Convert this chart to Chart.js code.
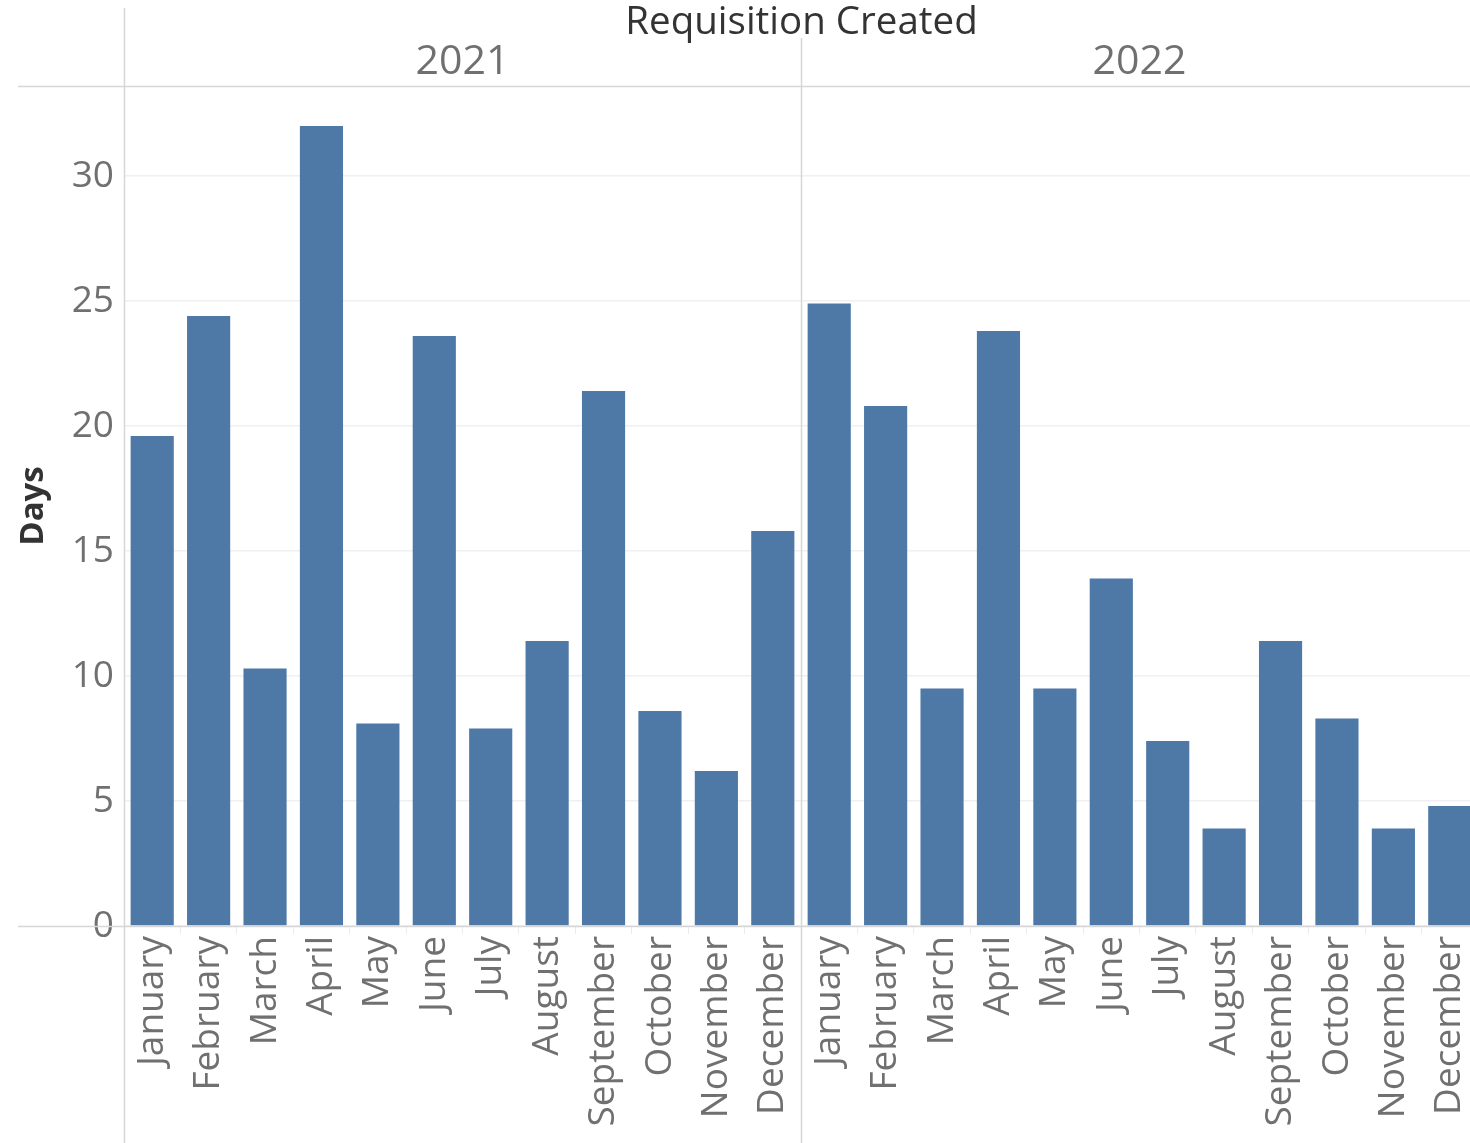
<!DOCTYPE html>
<html>
<head>
<meta charset="utf-8">
<script src="https://cdn.jsdelivr.net/npm/chart.js@4"></script>
<style>
  html, body { margin: 0; padding: 0; background: #fff; overflow: hidden; }
  #wrap { width: 1470px; height: 1143px; position: relative; overflow: hidden; }
</style>
</head>
<body>
<div id="wrap"><canvas id="chart" width="1478" height="1143"></canvas></div>
<script>
// Data
const years = ['2021', '2022'];
const months = ['January', 'February', 'March', 'April', 'May', 'June',
                'July', 'August', 'September', 'October', 'November', 'December'];
const days2021 = [19.6, 24.4, 10.3, 32.0, 8.1, 23.6, 7.9, 11.4, 21.4, 8.6, 6.2, 15.8];
const days2022 = [24.9, 20.8, 9.5, 23.8, 9.5, 13.9, 7.4, 3.9, 11.4, 8.3, 3.9, 4.8];
const yTicks = [0, 5, 10, 15, 20, 25, 30];

const FONT = '"Open Sans", "DejaVu Sans", sans-serif';
const grey = '#707070';
const lineColor = '#d6d6d6';

// one category per month, both years side by side
const labels = months.concat(months);
const values = days2021.concat(days2022);

// header text + pane lines, drawn from the x scale
const panes = {
    id: 'panes',
    afterDraw(chart) {
        const { ctx, chartArea, scales } = chart;
        const x = scales.x;
        const edge = i => x.getPixelForValue(i) - (x.getPixelForValue(1) - x.getPixelForValue(0)) / 2;
        const divider = Math.round(edge(12)) + 0.5;
        const left = Math.round(chartArea.left) + 0.5;

        ctx.save();
        ctx.strokeStyle = lineColor;
        ctx.lineWidth = 1.5;
        ctx.beginPath();
        // header bottom line and axis line
        ctx.moveTo(18, Math.round(chartArea.top) + 0.5);
        ctx.lineTo(chart.width, Math.round(chartArea.top) + 0.5);
        ctx.moveTo(18, Math.round(chartArea.bottom) + 0.5);
        ctx.lineTo(chart.width, Math.round(chartArea.bottom) + 0.5);
        // left axis line and pane divider
        ctx.moveTo(left, 8);
        ctx.lineTo(left, 1143);
        ctx.moveTo(divider, 38);
        ctx.lineTo(divider, 1143);
        ctx.stroke();

        ctx.textAlign = 'center';
        ctx.textBaseline = 'middle';
        ctx.fillStyle = '#333';
        ctx.font = '38.5px ' + FONT;
        ctx.fillText('Requisition Created', divider, 23);

        ctx.fillStyle = grey;
        ctx.font = '41px ' + FONT;
        years.forEach((yr, i) => {
            const a = edge(i * 12), b = edge(i * 12 + 12);
            ctx.fillText(yr, (a + b) / 2, 62);
        });
        ctx.restore();
    }
};

new Chart(document.getElementById('chart'), {
    type: 'bar',
    data: {
        labels: labels,
        datasets: [{
            label: 'Days',
            data: values,
            backgroundColor: '#4e79a7',
            borderWidth: 0,
            barPercentage: 0.765,
            categoryPercentage: 1
        }]
    },
    options: {
        responsive: false,
        animation: false,
        layout: { padding: { top: 86, left: 0, right: 0, bottom: 0 } },
        plugins: {
            legend: { display: false },
            tooltip: { enabled: false }
        },
        scales: {
            x: {
                offset: true,
                border: { display: false },
                grid: { display: true, drawOnChartArea: false, offset: true, tickLength: 8, color: '#ececec' },
                ticks: {
                    autoSkip: false,
                    minRotation: 90,
                    maxRotation: 90,
                    padding: 2,
                    color: grey,
                    font: { family: FONT, size: 37 }
                },
                afterFit(scale) {
                    scale.height = 217;
                    scale.paddingLeft = 0;
                    scale.paddingRight = 0;
                }
            },
            y: {
                min: 0,
                max: 33.6,
                border: { display: false },
                grid: { color: '#f0f0f0', drawTicks: false, lineWidth: 1.5 },
                ticks: {
                    stepSize: 5,
                    includeBounds: false,
                    padding: 10,
                    color: grey,
                    font: { family: FONT, size: 37 }
                },
                afterBuildTicks(scale) {
                    scale.ticks = yTicks.map(v => ({ value: v }));
                },
                title: {
                    display: true,
                    text: 'Days',
                    color: '#333',
                    font: { family: FONT, size: 33, weight: 'bold' },
                    padding: { top: 14, bottom: 0 }
                },
                afterFit(scale) {
                    scale.width = 124;
                    scale.paddingTop = 0;
                    scale.paddingBottom = 0;
                }
            }
        }
    },
    plugins: [panes]
});
</script>
</body>
</html>
